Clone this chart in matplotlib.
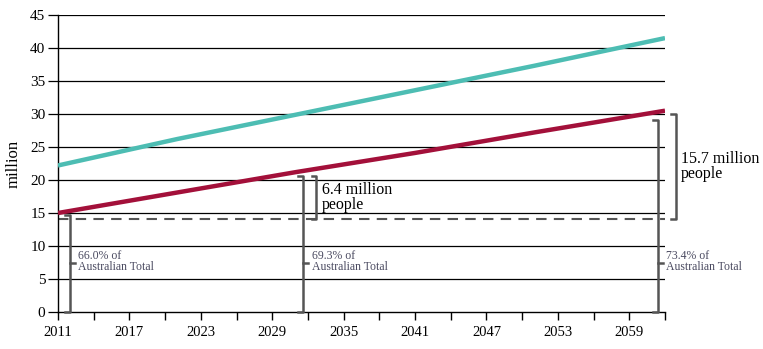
import numpy as np
import matplotlib
matplotlib.use("Agg")
from matplotlib import pyplot as plt

plt.rcParams['font.family'] = ['Liberation Serif', 'DejaVu Serif']

# population projections, million
years = [2011, 2021, 2031, 2041, 2051, 2062]
total_pop = [22.2, 26.2, 29.9, 33.6, 37.3, 41.5]
capitals_pop = [15.0, 18.1, 21.2, 24.1, 27.2, 30.5]
base_2011 = 14.1

tick_years = list(range(2011, 2063, 3))
label_years = list(range(2011, 2060, 6))
yticks = list(range(0, 46, 5))

share_labels = ["66.0% of\nAustralian Total", "69.3% of\nAustralian Total",
                "73.4% of\nAustralian Total"]
share_x = [2012.0, 2031.6, 2061.4]
share_top = [14.7, 20.6, 29.1]
growth_labels = ["6.4 million\npeople", "15.7 million\npeople"]
growth_x = [2032.7, 2062.9]
growth_top = [20.6, 30.0]

TEAL = '#4dbdb3'
MAROON = '#a3103a'
GREY = '#555555'
TXT = '#4a4a60'

fig = plt.figure(figsize=(7.63, 3.49), dpi=100)
ax = fig.add_axes([58 / 763, 1 - 312 / 349, 607 / 763, 297 / 349])

for y in yticks[1:]:
    ax.axhline(y, color='black', lw=0.9, zorder=1)

ax.plot(years, total_pop, color=TEAL, lw=3.2, zorder=3, solid_capstyle='butt')
ax.plot(years, capitals_pop, color=MAROON, lw=3.2, zorder=3, solid_capstyle='butt')
ax.axhline(base_2011, color=GREY, lw=1.5, ls=(0, (5, 3.5)), zorder=2)

foot = 0.4
# share brackets from zero up to the capitals line
for x, top, lab in zip(share_x, share_top, share_labels):
    ax.plot([x - foot, x, x, x - foot], [0, 0, top, top], color=GREY, lw=1.8,
            clip_on=False, zorder=4)
    ax.plot([x, x + foot], [7.5, 7.5], color=GREY, lw=1.8, clip_on=False, zorder=4)
    ax.text(x + 0.7, 7.6, lab, fontsize=8.5, color=TXT, va='center', ha='left',
            linespacing=0.9)

# growth brackets above the 2011 level
for x, top, lab in zip(growth_x, growth_top, growth_labels):
    ax.plot([x - foot, x, x, x - foot], [base_2011, base_2011, top, top],
            color=GREY, lw=1.8, clip_on=False, zorder=4)
    ax.text(x + 0.45, (base_2011 + top) / 2, lab, fontsize=11.5, color='black',
            va='center', ha='left', linespacing=0.85)

ax.set_xlim(2011, 2062)
ax.set_ylim(0, 45)
ax.set_xticks(tick_years)
ax.set_xticklabels([str(y) if y in label_years else '' for y in tick_years])
ax.set_yticks(yticks)
ax.tick_params(axis='x', direction='out', length=6, width=1, labelsize=10.5, pad=4)
ax.tick_params(axis='y', direction='out', length=7, width=0.9, labelsize=11, pad=2)
ax.set_ylabel('million', fontsize=12, labelpad=6)

for side in ['top', 'right']:
    ax.spines[side].set_visible(False)
ax.spines['left'].set_linewidth(1)
ax.spines['bottom'].set_linewidth(1)

plt.savefig('out.png', dpi=100)
